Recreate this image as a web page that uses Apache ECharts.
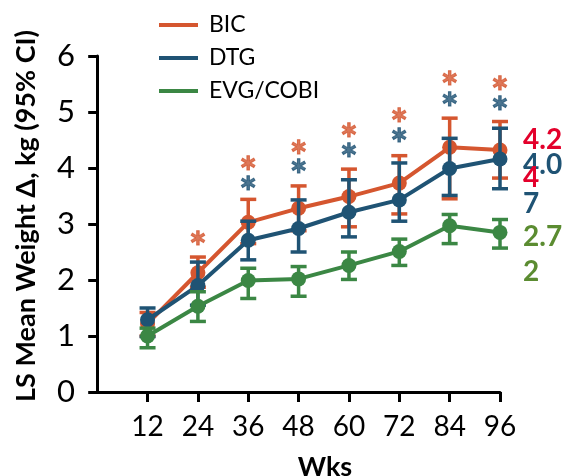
<!DOCTYPE html>
<html>
<head>
<meta charset="utf-8">
<script src="https://cdn.jsdelivr.net/npm/echarts@6/dist/echarts.min.js"></script>
<style>
html,body{margin:0;padding:0;background:#fff;}
#chart{width:566px;height:476px;}
</style>
</head>
<body>
<div id="chart"></div>
<script>
// ---- data ----
const weeks = [12, 24, 36, 48, 60, 72, 84, 96];
const seriesNames = ['BIC', 'DTG', 'EVG/COBI'];

const bicMean = [1.22, 2.13, 3.03, 3.28, 3.49, 3.73, 4.37, 4.32];
const bicLow  = [1.00, 1.87, 2.65, 2.88, 2.95, 3.18, 3.45, 3.82];
const bicHigh = [1.42, 2.41, 3.44, 3.68, 3.98, 4.22, 4.89, 4.83];

const dtgMean = [1.29, 1.90, 2.71, 2.92, 3.21, 3.43, 3.99, 4.16];
const dtgLow  = [0.99, 1.55, 2.36, 2.50, 2.77, 3.05, 3.51, 3.63];
const dtgHigh = [1.50, 2.32, 3.05, 3.43, 3.79, 4.09, 4.53, 4.71];

const evgMean = [1.00, 1.53, 1.99, 2.02, 2.26, 2.51, 2.97, 2.85];
const evgLow  = [0.79, 1.26, 1.67, 1.71, 2.01, 2.26, 2.65, 2.57];
const evgHigh = [1.14, 1.79, 2.21, 2.24, 2.50, 2.73, 3.17, 3.08];

const bicStarWeeks = [24, 36, 48, 60, 72, 84, 96];
const bicStarY     = [2.78, 4.12, 4.41, 4.71, 4.98, 5.63, 5.54];
const dtgStarWeeks = [36, 48, 60, 72, 84, 96];
const dtgStarY     = [3.76, 4.06, 4.35, 4.61, 5.26, 5.19];

const yTicks = [0, 1, 2, 3, 4, 5, 6];
const sideLabels = ['4.2', '4.0', '4', '7', '2.7', '2'];

const yTitle = 'LS Mean Weight Δ, kg (95% CI)';
const xTitle = 'Wks';

// ---- styles ----
const C_BIC = '#d5562f', C_DTG = '#1f5374', C_EVG = '#3b8744';
const sideColors = ['#e3002b', '#1f5374', '#e3002b', '#1f5374', '#5b8c31', '#5b8c31'];
const sideY = [140, 165, 178, 204, 237, 272];
const FONT = 'Lato';

function zip(a, b) { return a.map((v, i) => [v, b[i]]); }
function errData(lo, hi) { return weeks.map((w, i) => [w, lo[i], hi[i]]); }

function errSeries(lo, hi, color, z) {
  return {
    type: 'custom', z: z, silent: true,
    encode: { x: 0, y: [1, 2] },
    data: errData(lo, hi),
    renderItem: function (params, api) {
      const x = api.value(0);
      const pLo = api.coord([x, api.value(1)]);
      const pHi = api.coord([x, api.value(2)]);
      const hw = 8;
      const st = { stroke: color, lineWidth: 3.5 };
      return {
        type: 'group',
        children: [
          { type: 'line', shape: { x1: pLo[0], y1: pLo[1], x2: pHi[0], y2: pHi[1] }, style: st },
          { type: 'line', shape: { x1: pLo[0] - hw, y1: pLo[1], x2: pLo[0] + hw, y2: pLo[1] }, style: st },
          { type: 'line', shape: { x1: pHi[0] - hw, y1: pHi[1], x2: pHi[0] + hw, y2: pHi[1] }, style: st }
        ]
      };
    }
  };
}

function lineSeries(name, mean, color, z) {
  return {
    name: name, type: 'line', z: z,
    data: zip(weeks, mean),
    symbol: 'circle', symbolSize: 15,
    lineStyle: { color: color, width: 4 },
    itemStyle: { color: color },
    emphasis: { disabled: true }
  };
}

function starSeries(xs, ys, color) {
  return {
    type: 'scatter', z: 10, silent: true,
    data: zip(xs, ys),
    symbolSize: 1,
    itemStyle: { color: 'rgba(0,0,0,0)' },
    label: {
      show: true, formatter: '*', position: 'inside',
      color: color, fontFamily: FONT, fontWeight: 'bold', fontSize: 42,
      textBorderColor: color, textBorderWidth: 1,
      offset: [0, 13]
    }
  };
}

const chart = echarts.init(document.getElementById('chart'), null, { renderer: 'canvas' });

const graphics = [
  { type: 'text', x: 26, y: 216, rotation: Math.PI / 2,
    style: { text: yTitle, fontFamily: FONT, fontWeight: 'bold', fontSize: 27, fill: '#000', align: 'center', verticalAlign: 'middle' } },
  { type: 'text', x: 325, y: 467,
    style: { text: xTitle, fontFamily: FONT, fontWeight: 'bold', fontSize: 27, fill: '#000', align: 'center', verticalAlign: 'middle' } }
];
sideLabels.forEach((t, i) => {
  graphics.push({ type: 'text', x: 523, y: sideY[i],
    style: { text: t, fontFamily: FONT, fontWeight: 'bold', fontSize: 28, fill: sideColors[i], align: 'left', verticalAlign: 'middle' } });
});

chart.setOption({
  animation: false,
  backgroundColor: '#fff',
  grid: { left: 93, right: 66, top: 56, bottom: 84 },
  legend: {
    orient: 'vertical', left: 154, top: 8,
    data: seriesNames,
    icon: 'rect', itemWidth: 39, itemHeight: 4, itemGap: 9,
    textStyle: { fontFamily: FONT, fontSize: 23, color: '#000', lineHeight: 24, padding: [0, 0, 0, 6] }
  },
  xAxis: {
    type: 'value', min: -1, max: 96,
    axisLine: { show: true, lineStyle: { color: '#000', width: 3 } },
    axisTick: { show: true, length: 10, lineStyle: { color: '#000', width: 3 }, customValues: weeks },
    axisLabel: { customValues: weeks, color: '#000', fontFamily: FONT, fontSize: 28, margin: 21 },
    splitLine: { show: false }
  },
  yAxis: {
    type: 'value', min: 0, max: 6, interval: 1,
    axisLine: { show: true, lineStyle: { color: '#000', width: 3 } },
    axisTick: { show: true, length: 9, lineStyle: { color: '#000', width: 3 } },
    axisLabel: { color: '#000', fontFamily: FONT, fontSize: 31, margin: 18,
      formatter: function (v) { return yTicks.indexOf(v) >= 0 ? String(v) : ''; } },
    splitLine: { show: false }
  },
  graphic: graphics,
  series: [
    errSeries(bicLow, bicHigh, C_BIC, 1),
    lineSeries(seriesNames[0], bicMean, C_BIC, 2),
    errSeries(dtgLow, dtgHigh, C_DTG, 3),
    lineSeries(seriesNames[1], dtgMean, C_DTG, 4),
    errSeries(evgLow, evgHigh, C_EVG, 5),
    lineSeries(seriesNames[2], evgMean, C_EVG, 6),
    starSeries(bicStarWeeks, bicStarY, C_BIC),
    starSeries(dtgStarWeeks, dtgStarY, C_DTG)
  ]
});
</script>
</body>
</html>
